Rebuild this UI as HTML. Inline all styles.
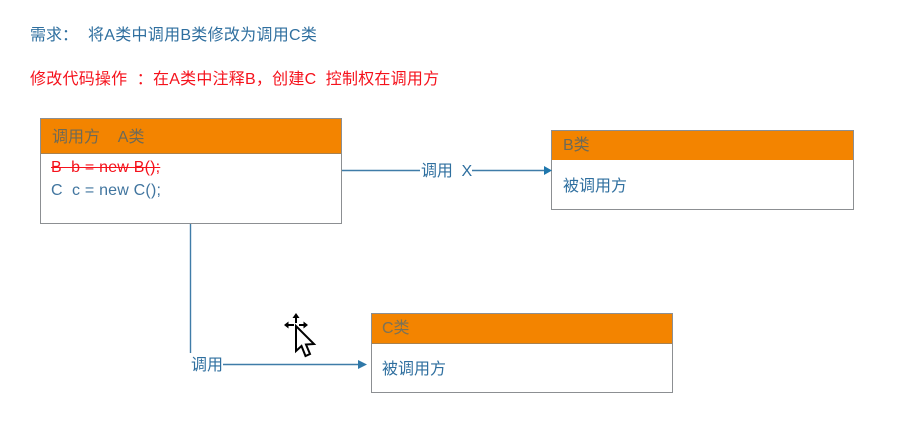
<!DOCTYPE html>
<html>
<head>
<meta charset="utf-8">
<style>
html,body{margin:0;padding:0;background:#fff;width:913px;height:435px;overflow:hidden}
#s{position:relative;width:913px;height:435px;overflow:hidden;font-family:"Liberation Sans","Noto Sans CJK SC",sans-serif;filter:blur(.35px)}
.t{position:absolute;white-space:pre;line-height:20px;font-size:16px;letter-spacing:0;color:#2f6f9f}
.box{position:absolute;box-sizing:border-box;background:#fff;border:1px solid #8c8f92}
.hd{position:absolute;left:0;top:0;right:0;background:#f38400;border-bottom:1px solid #a8814f}
.red{color:#f5121c}
svg{position:absolute;left:0;top:0}
</style>
</head>
<body>
<div id="s">
<div class="t" style="left:30px;top:26px">需求：</div>
<div class="t" style="left:88px;top:26px;letter-spacing:.28px">将A类中调用B类修改为调用C类</div>
<div class="t red" style="left:30px;top:70px;letter-spacing:.23px">修改代码操作  ：在A类中注释B，创建C  控制权在调用方</div>

<div class="box" style="left:40px;top:118px;width:302px;height:106px">
  <div class="hd" style="height:34px"></div>
</div>
<div class="t" style="left:52px;top:128px;color:#6d6a58">调用方    A类</div>
<div class="t red" style="left:51px;top:158px;letter-spacing:.2px;text-decoration:line-through">B  b = new B();</div>
<div class="t" style="left:51px;top:181px;letter-spacing:.2px;color:#41759f">C  c = new C();</div>

<div class="box" style="left:551px;top:130px;width:303px;height:80px">
  <div class="hd" style="height:29px;border-bottom:0"></div>
</div>
<div class="t" style="left:563px;top:136px;color:#6d6a58">B类</div>
<div class="t" style="left:563px;top:177px">被调用方</div>

<div class="box" style="left:371px;top:313px;width:302px;height:80px">
  <div class="hd" style="height:29px"></div>
</div>
<div class="t" style="left:382px;top:319px;color:#7a7258">C类</div>
<div class="t" style="left:382px;top:360px">被调用方</div>

<svg width="913" height="435" viewBox="0 0 913 435">
  <g stroke="#3f7ca8" stroke-width="1.4" fill="none">
    <path d="M342 170.5H420"/>
    <path d="M468 170.5H545"/>
    <path d="M190.5 224V353"/>
    <path d="M223 364.5H360"/>
  </g>
  <path d="M544 166L552 170.5L544 175Z" fill="#1f77ad"/>
  <path d="M358 360L367 364.5L358 369Z" fill="#2f78a8"/>
  <g fill="#000" stroke="none">
    <path d="M296 313L299.5 318H297V323H295V318H292.5Z"/>
    <path d="M284 325L288.5 321.5V324H294V326H288.5V328.5Z"/>
    <path d="M308 325L303.5 321.5V324H299V326H303.5V328.5Z"/>
  </g>
  <path d="M296 326V351L301.5 346L305.5 356L310 354L306 344.5L314 344Z" fill="#fff" stroke="#000" stroke-width="2" stroke-linejoin="miter"/>
</svg>
<div class="t" style="left:421px;top:162px;letter-spacing:-.1px;background:#fff">调用  X</div>
<div class="t" style="left:191px;top:356px;background:#fff">调用</div>
</div>
</body>
</html>
